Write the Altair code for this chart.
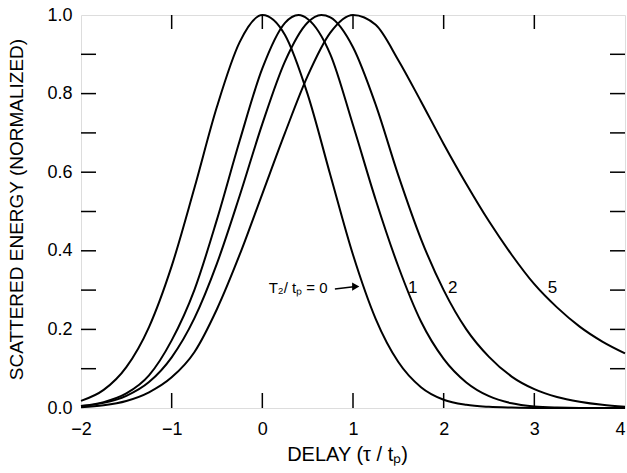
import altair as alt
import pandas as pd

FONT = "Liberation Sans"

# ---- curve data ----
x_T0 = [-2, -1.75, -1.5, -1.25, -1, -0.75, -0.5, -0.25, 0, 0.25, 0.5, 0.75, 1, 1.25,
        1.5, 1.75, 2, 2.25, 2.5, 2.75, 3, 3.25, 3.5, 3.75, 4]
y_T0 = [0.018, 0.046, 0.104, 0.206, 0.361, 0.559, 0.767, 0.931, 1.0, 0.949, 0.798, 0.593,
        0.390, 0.227, 0.117, 0.053, 0.021, 0.008, 0.003, 0.001, 0, 0, 0, 0, 0]

x_T1 = [-2, -1.75, -1.5, -1.25, -1, -0.75, -0.5, -0.25, 0, 0.25, 0.4, 0.5, 0.75, 1, 1.25,
        1.5, 1.75, 2, 2.25, 2.5, 2.75, 3, 3.25, 3.5, 3.75, 4]
y_T1 = [0.005, 0.015, 0.037, 0.083, 0.172, 0.30, 0.48, 0.68, 0.864, 0.98, 1.0, 0.99, 0.90,
        0.72, 0.53, 0.36, 0.22, 0.125, 0.065, 0.03, 0.012, 0.004, 0.001, 0, 0, 0]

x_T2 = [-2, -1.75, -1.5, -1.25, -1, -0.75, -0.5, -0.25, 0, 0.25, 0.5, 0.65, 0.75, 1, 1.25,
        1.5, 1.75, 2, 2.25, 2.5, 2.75, 3, 3.25, 3.5, 3.75, 4]
y_T2 = [0.005, 0.013, 0.031, 0.066, 0.129, 0.228, 0.368, 0.54, 0.723, 0.882, 0.981, 1.0,
        0.994, 0.918, 0.772, 0.592, 0.43, 0.30, 0.20, 0.13, 0.08, 0.048, 0.028, 0.016,
        0.008, 0.003]

x_T5 = [-2, -1.75, -1.5, -1.25, -1, -0.75, -0.5, -0.25, 0, 0.25, 0.5, 0.75, 1, 1.25,
        1.5, 1.75, 2, 2.25, 2.5, 2.75, 3, 3.25, 3.5, 3.75, 4]
y_T5 = [0.002, 0.007, 0.018, 0.040, 0.078, 0.142, 0.252, 0.39, 0.545, 0.70, 0.845, 0.955,
        1.0, 0.975, 0.885, 0.78, 0.672, 0.57, 0.475, 0.39, 0.315, 0.256, 0.207, 0.169, 0.139]

# ---- axis ticks / labels ----
x_label_values = [-2, -1, 0, 1, 2, 3, 4]
y_label_values = [0.0, 0.2, 0.4, 0.6, 0.8, 1.0]
x_minor_ticks = [-1, 0, 1, 2, 3]
y_minor_ticks = [0.1, 0.2, 0.3, 0.4, 0.5, 0.6, 0.7, 0.8, 0.9]

# ---- annotations ----
curve_labels = ["1", "2", "5"]
curve_label_x = [1.66, 2.10, 3.20]
curve_label_y = [0.305, 0.305, 0.305]
main_label = "T₂/ tₚ = 0"
arrow_x = [0.80, 1.03]
arrow_y = [0.303, 0.309]

rows = []
for name, xs_, ys_ in [("0", x_T0, y_T0), ("1", x_T1, y_T1), ("2", x_T2, y_T2), ("5", x_T5, y_T5)]:
    for a, b in zip(xs_, ys_):
        rows.append({"x": a, "y": b, "series": name})
curves = pd.DataFrame(rows)

W, H = 544, 393
xsc = alt.Scale(domain=[-2, 4], nice=False, zero=False)
ysc = alt.Scale(domain=[0, 1], nice=False, zero=False)

x_axis = alt.Axis(values=x_label_values, format="d", tickSize=0, domain=False, grid=False,
                  labelFontSize=18, labelPadding=12, labelFlush=False, labelOverlap=False,
                  labelAlign={"condition": {"test": "datum.value == 4", "value": "right"},
                              "value": "center"},
                  labelFont=FONT, labelColor="black",
                  title="DELAY (τ / tₚ)", titleFont=FONT, titleFontSize=20,
                  titleFontWeight="normal", titleColor="black", titlePadding=6, titleX=266)
y_axis = alt.Axis(values=y_label_values, format=".1f", tickSize=0, domain=False, grid=False,
                  labelFontSize=18, labelPadding=9, labelOverlap=False, labelFlush=False,
                  labelFont=FONT, labelColor="black",
                  title="SCATTERED ENERGY (NORMALIZED)", titleFont=FONT, titleFontSize=19,
                  titleFontWeight="normal", titleColor="black", titlePadding=20, titleY=194)

lines = alt.Chart(curves).mark_line(color="black", strokeWidth=2, interpolate="monotone").encode(
    x=alt.X("x:Q", scale=xsc, axis=x_axis),
    y=alt.Y("y:Q", scale=ysc, axis=y_axis),
    detail="series:N",
)

xt = pd.DataFrame({"v": x_minor_ticks})
yt = pd.DataFrame({"v": y_minor_ticks})
tick_style = dict(color="black", strokeWidth=1.5)
bottom_ticks = alt.Chart(xt).mark_rule(**tick_style).encode(
    x=alt.X("v:Q", scale=xsc), y=alt.value(H), y2=alt.value(H - 15))
top_ticks = alt.Chart(xt).mark_rule(**tick_style).encode(
    x=alt.X("v:Q", scale=xsc), y=alt.value(0), y2=alt.value(14))
left_ticks = alt.Chart(yt).mark_rule(**tick_style).encode(
    y=alt.Y("v:Q", scale=ysc), x=alt.value(0), x2=alt.value(15))
right_ticks = alt.Chart(yt).mark_rule(**tick_style).encode(
    y=alt.Y("v:Q", scale=ysc), x=alt.value(W - 15), x2=alt.value(W))

lab_df = pd.DataFrame({"t": curve_labels, "x": curve_label_x, "y": curve_label_y})
labels = alt.Chart(lab_df).mark_text(font=FONT, fontSize=17, color="black",
                                      align="center", baseline="middle").encode(
    x=alt.X("x:Q", scale=xsc), y=alt.Y("y:Q", scale=ysc), text="t:N")

main_df = pd.DataFrame({"t": [main_label], "x": [0.72], "y": [0.305]})
main_text = alt.Chart(main_df).mark_text(font=FONT, fontSize=15, color="black",
                                          align="right", baseline="middle").encode(
    x=alt.X("x:Q", scale=xsc), y=alt.Y("y:Q", scale=ysc), text="t:N")

arr_df = pd.DataFrame({"x": arrow_x, "y": arrow_y})
arrow_line = alt.Chart(arr_df).mark_line(color="black", strokeWidth=1.5).encode(
    x=alt.X("x:Q", scale=xsc), y=alt.Y("y:Q", scale=ysc))
head_df = pd.DataFrame({"x": [arrow_x[-1]], "y": [arrow_y[-1]]})
arrow_head = alt.Chart(head_df).mark_point(shape="triangle-right", filled=True, color="black",
                                           size=70, opacity=1).encode(
    x=alt.X("x:Q", scale=xsc), y=alt.Y("y:Q", scale=ysc))

chart = alt.layer(lines, bottom_ticks, top_ticks, left_ticks, right_ticks,
                  labels, main_text, arrow_line, arrow_head).properties(
    width=W, height=H,
    autosize=alt.AutoSizeParams(type="none"),
    padding={"left": 81, "top": 15, "right": 2, "bottom": 65},
).configure_view(stroke="black", strokeWidth=1.5).configure(background="white")

chart.save("out.html", embed_options={"renderer": "svg", "actions": False})
